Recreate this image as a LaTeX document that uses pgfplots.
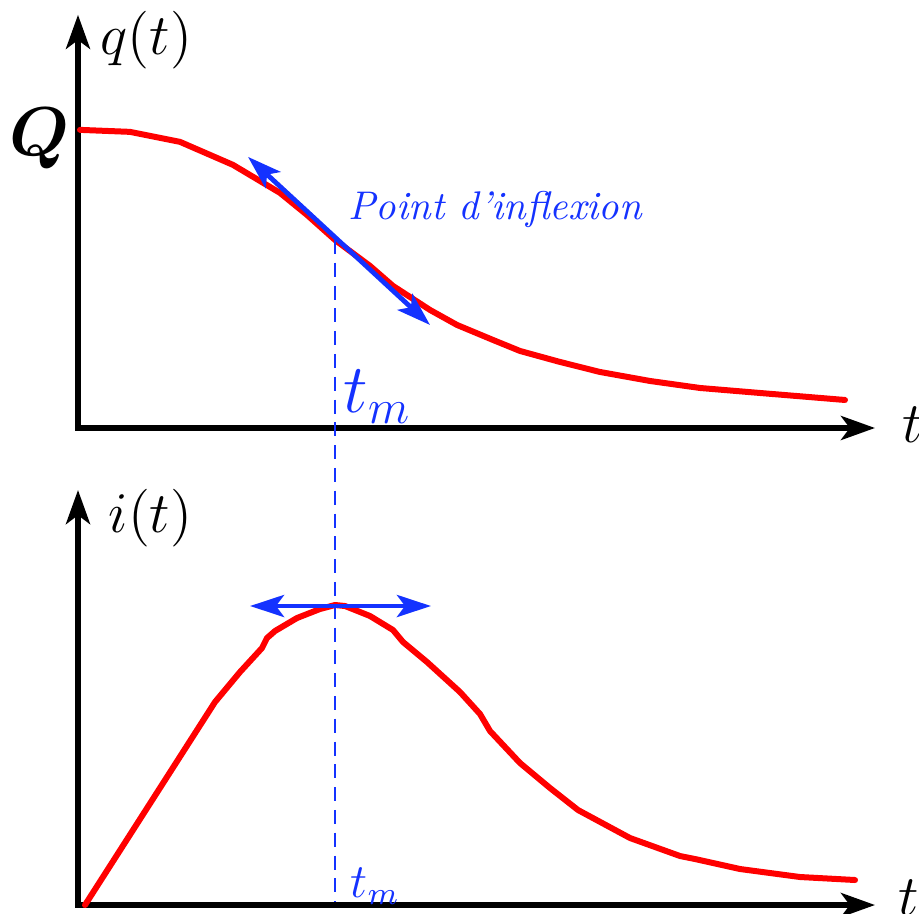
\documentclass[border=0pt]{standalone}
\usepackage{pgfplots}
\pgfplotsset{compat=1.18}
\usepackage{bm}
\usetikzlibrary{arrows.meta}

\definecolor{tanblue}{RGB}{20,50,255}

% Both panels share one pixel-like coordinate frame: x in [0,919], y in [0,913]
\pgfplotsset{
  panel/.style={
    hide axis, scale only axis, width=229.75pt,
    xmin=0, xmax=919, enlargelimits=false, clip=false,
    anchor=south west,
  },
  curve/.style={red, line width=1.5pt, line join=round, line cap=round, mark=none},
  axisarrow/.style={black, line width=1.4pt, line join=miter,
    {Stealth[length=8.5pt,width=6pt,inset=2.2pt]}-{Stealth[length=8.5pt,width=6pt,inset=2.2pt]}},
  tangent/.style={tanblue, line width=1.2pt, mark=none,
    {Stealth[length=8.5pt,width=5.5pt,inset=2pt]}-{Stealth[length=8.5pt,width=5.5pt,inset=2pt]}},
}

\begin{document}
\begin{tikzpicture}
\useasboundingbox (0,0) rectangle (229.75pt,228.25pt);
\clip (0,0) rectangle (229.75pt,228.25pt);

% ---------- charge q(t) ----------
\begin{axis}[panel, at={(0pt,114pt)}, height=114.25pt, ymin=456, ymax=913]
  \addplot[axisarrow] coordinates {(78,898) (78,485) (875,485)};
  \addplot[curve] coordinates {
    (80,783) (130,781) (180,771) (233,748) (280,720) (307,698)
    (335,673) (370,647) (393,627) (430,603) (457,588) (493,573)
    (520,562) (560,551) (600,541) (650,532) (700,525) (760,520) (845,513)};
  % tangent at the inflection point
  \addplot[tangent] coordinates {(248,756) (430,588)};
  % t_m marker down to the time axis of the lower panel
  \addplot[tanblue, line width=0.7pt, dash pattern=on 3.5pt off 2.2pt, mark=none]
    coordinates {(335,673) (335,8)};
  \node[anchor=base west, inner sep=0] at (axis cs:100,858) {\Large$q(t)$};
  \node[anchor=center, inner sep=0] at (axis cs:40,774) {\LARGE$\bm{Q}$};
  \node[anchor=base west, inner sep=0] at (axis cs:902,471) {\Large$t$};
  \node[anchor=base west, inner sep=0, text=tanblue] at (axis cs:343,500) {\LARGE$t_m$};
  \node[anchor=base west, inner sep=0, text=tanblue] at (axis cs:348,693) {\textit{Point d'inflexion}};
\end{axis}

% ---------- current i(t) ----------
\begin{axis}[panel, at={(0pt,0pt)}, height=114pt, ymin=0, ymax=456]
  \addplot[axisarrow] coordinates {(78,423) (78,8) (875,8)};
  \addplot[curve] coordinates {
    (85,8) (215,211) (240,241) (262,265) (267,275) (275,282)
    (297,295) (320,304) (335,308) (345,307) (370,297) (393,283)
    (403,271) (427,251) (460,221) (480,199) (490,182) (520,150)
    (550,125) (578,103) (630,75) (680,57) (695,54) (740,44) (800,36) (855,33)};
  % horizontal tangent at the maximum
  \addplot[tangent] coordinates {(250,307) (431,307)};
  \node[anchor=base west, inner sep=0] at (axis cs:108,381) {\Large$i(t)$};
  \node[anchor=base west, inner sep=0] at (axis cs:898,-2) {\Large$t$};
  \node[anchor=base west, inner sep=0, text=tanblue] at (axis cs:350,16) {\large$t_m$};
\end{axis}
\end{tikzpicture}
\end{document}
